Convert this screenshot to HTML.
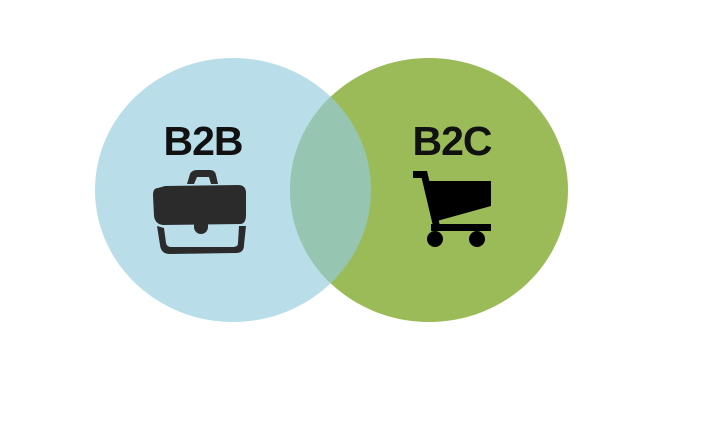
<!DOCTYPE html>
<html><head><style>html,body{margin:0;padding:0;background:#fff;width:712px;height:421px;overflow:hidden}</style></head>
<body>
<svg width="712" height="421" viewBox="0 0 712 421" xmlns="http://www.w3.org/2000/svg">
<rect width="712" height="421" fill="#fff"/>
<defs><clipPath id="lc"><ellipse cx="233" cy="190" rx="138" ry="132"/></clipPath></defs>
<ellipse cx="233" cy="190" rx="138" ry="132" fill="#b9dee9"/>
<ellipse cx="429" cy="190" rx="139" ry="132" fill="#9bbb59"/>
<ellipse cx="429" cy="190" rx="139" ry="132" fill="#96c6b1" clip-path="url(#lc)"/>
<text x="203" y="155" font-family="Liberation Sans, sans-serif" font-weight="bold" font-size="41" text-anchor="middle" fill="#111" letter-spacing="-1">B2B</text>
<text x="452" y="155" font-family="Liberation Sans, sans-serif" font-weight="bold" font-size="41" text-anchor="middle" fill="#111" letter-spacing="-1">B2C</text>
<g fill="#2b2b2b">
<path d="M187 184 L190 174 Q192 170 197 170 L210 170 Q215 170 216 175 L218 184 L211 184 L209 177 L197 177 L194 184 Z"/>
<path d="M158 188 Q153 188 153 195 L154 216 Q155 224 163 225 L241 224 Q246 223 246 215 L246 193 Q246 185 238 185 L165 186 Z"/>
<path d="M157 226 L160 245 Q161 254 170 254 L236 253 Q244 253 244 245 L246 226 L239 226 L238 243 Q238 247 233 247 L171 247 Q167 247 166 243 L164 228 Z"/>
<rect x="194" y="218" width="14" height="16" rx="7"/>
</g>
<g fill="#000">
<rect x="413" y="171" width="14" height="7"/>
<path d="M420 171 L427 171 L440 226 L433 226 Z"/>
<path d="M427 181 L491 181 L491 206 L437 221 Z"/>
<rect x="431" y="224" width="60" height="7"/>
<circle cx="435" cy="239" r="8"/>
<circle cx="477" cy="239" r="8"/>
</g>
</svg>
</body></html>
